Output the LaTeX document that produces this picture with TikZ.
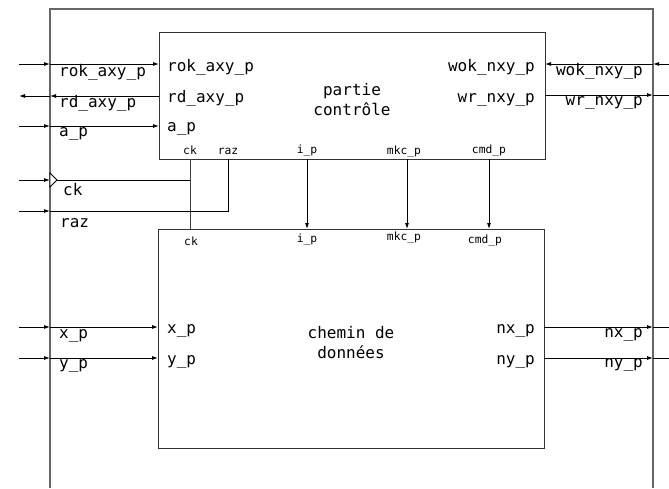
\documentclass[tikz,border=0pt]{standalone}
\usepackage{fontspec}
\setmonofont{DejaVu Sans Mono}
\usetikzlibrary{arrows.meta}
\begin{document}
\begin{tikzpicture}[x=1pt,y=-1pt,
  lbl/.style={font=\fontsize{16}{20}\selectfont\ttfamily, inner sep=0pt},
  sm/.style={font=\fontsize{11.3}{13}\selectfont\ttfamily, inner sep=0pt},
  sig/.style={draw=black, line width=0.9pt, -{Latex[length=6pt,width=4pt]}},
  wire/.style={draw=black, line width=0.9pt},
  box/.style={draw=black!80, line width=1pt},
  outer/.style={draw=black!60, line width=1.2pt},
]
\useasboundingbox (0,0) rectangle (669,488);
% outer frame (open at bottom)
\draw[outer] (50,488) -- (50,9) -- (653,9) -- (653,488);

% boxes
\node[box, anchor=north west, minimum width=386pt, minimum height=127pt, inner sep=0pt] (pc) at (159,32) {};
\node[box, anchor=north west, minimum width=386pt, minimum height=219pt, inner sep=0pt] (cd) at (158,229) {};

\node[lbl, align=center] (pct) at (352,100) {partie\\contrôle};
\node[lbl, align=center] (cdt) at (351,343) {chemin de\\données};

% coordinates
\coordinate (rokL) at (19,64);  \coordinate (rokB) at (50,64);  \coordinate (rokI) at (159,64);
\coordinate (rdL) at (19,96);   \coordinate (rdB) at (50,96);   \coordinate (rdI) at (159,96);
\coordinate (apL) at (19,126);  \coordinate (apB) at (50,126);  \coordinate (apI) at (159,126);
\coordinate (ckL) at (19,180);  \coordinate (ckB) at (50,180);  \coordinate (ckT) at (57,180);
\coordinate (ckJ) at (190,180); \coordinate (ckU) at (190,159); \coordinate (ckD) at (190,229);
\coordinate (razL) at (19,211); \coordinate (razB) at (50,211); \coordinate (razJ) at (228,211); \coordinate (razU) at (228,159);
\coordinate (wokR) at (669,64); \coordinate (wokB) at (653,64); \coordinate (wokI) at (545,64);
\coordinate (wrR) at (669,95);  \coordinate (wrB) at (653,95);  \coordinate (wrI) at (545,95);
\coordinate (xL) at (19,327);   \coordinate (xB) at (50,327);   \coordinate (xI) at (158,327);
\coordinate (yL) at (19,358);   \coordinate (yB) at (50,358);   \coordinate (yI) at (158,358);
\coordinate (nxI) at (544,327); \coordinate (nxB) at (653,327); \coordinate (nxR) at (669,327);
\coordinate (nyI) at (544,358); \coordinate (nyB) at (653,358); \coordinate (nyR) at (669,358);
\coordinate (ipU) at (307,159); \coordinate (ipD) at (307,229);
\coordinate (mkU) at (407,159); \coordinate (mkD) at (407,229);
\coordinate (cmU) at (489,159); \coordinate (cmD) at (489,229);

% left signals
\draw[sig] (rokL) -- (rokB); \draw[sig] (rokB) -- (rokI);
\draw[sig] (rdI) -- (rdB);   \draw[sig] (rdB) -- (rdL);
\draw[sig] (apL) -- (apB);   \draw[sig] (apB) -- (apI);
\draw[sig] (ckL) -- (ckB);
\draw[wire, fill=white] (50,173) -- (ckT) -- (50,187) -- cycle;
\draw[wire] (ckT) -- (ckJ);
\draw[wire, draw=black!75] (ckU) -- (ckD);
\draw[sig] (razL) -- (razB);
\draw[wire] (razB) -- (razJ) -- (razU);

% right signals
\draw[sig] (wokR) -- (wokB); \draw[sig] (wokB) -- (wokI);
\draw[sig] (wrI) -- (wrB);   \draw[wire] (wrB) -- (wrR);
\draw[sig] (nxI) -- (nxB);   \draw[wire] (nxB) -- (nxR);
\draw[sig] (nyI) -- (nyB);   \draw[wire] (nyB) -- (nyR);
\draw[sig] (xL) -- (xB);     \draw[sig] (xB) -- (xI);
\draw[sig] (yL) -- (yB);     \draw[sig] (yB) -- (yI);

% internal signals
\draw[sig] (ipU) -- (ipD);
\draw[sig] (mkU) -- (mkD);
\draw[sig] (cmU) -- (cmD);

% outside labels
\node[lbl, anchor=base west] (lrok) at (59,76) {rok\_axy\_p};
\node[lbl, anchor=base west] (lrd) at (59,107) {rd\_axy\_p};
\node[lbl, anchor=base west] (lap) at (59,136) {a\_p};
\node[lbl, anchor=base west] (lck) at (63,195) {ck};
\node[lbl, anchor=base west] (lraz) at (60,227) {raz};
\node[lbl, anchor=base west] (lx) at (59,338) {x\_p};
\node[lbl, anchor=base west] (ly) at (59,368) {y\_p};
\node[lbl, anchor=base east] (lwok) at (643,75) {wok\_nxy\_p};
\node[lbl, anchor=base east] (lwr) at (643,105) {wr\_nxy\_p};
\node[lbl, anchor=base east] (lnx) at (643,337) {nx\_p};
\node[lbl, anchor=base east] (lny) at (643,367) {ny\_p};

% inside labels
\node[lbl, anchor=base west] (irok) at (167,71) {rok\_axy\_p};
\node[lbl, anchor=base west] (ird) at (167,102) {rd\_axy\_p};
\node[lbl, anchor=base west] (iap) at (167,131) {a\_p};
\node[lbl, anchor=base east] (iwok) at (535,71) {wok\_nxy\_p};
\node[lbl, anchor=base east] (iwr) at (535,102) {wr\_nxy\_p};
\node[lbl, anchor=base west] (ix) at (167,333) {x\_p};
\node[lbl, anchor=base west] (iy) at (167,364) {y\_p};
\node[lbl, anchor=base east] (inx) at (535,333) {nx\_p};
\node[lbl, anchor=base east] (iny) at (535,364) {ny\_p};

% small port labels
\node[sm, anchor=base] (sck1) at (190,154) {ck};
\node[sm, anchor=base] (sraz) at (228,154) {raz};
\node[sm, anchor=base] (sip1) at (307,153) {i\_p};
\node[sm, anchor=base] (smk1) at (404,154) {mkc\_p};
\node[sm, anchor=base] (scm1) at (489,153) {cmd\_p};
\node[sm, anchor=base] (sck2) at (191,245) {ck};
\node[sm, anchor=base] (sip2) at (307,242) {i\_p};
\node[sm, anchor=base] (smk2) at (404,240) {mkc\_p};
\node[sm, anchor=base] (scm2) at (485,243) {cmd\_p};
\end{tikzpicture}
\end{document}
